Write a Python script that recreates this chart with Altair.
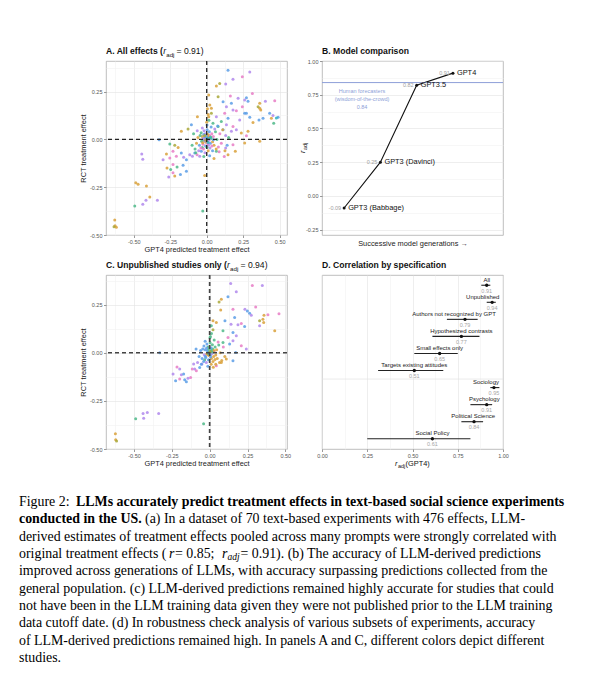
import altair as alt
import pandas as pd

SANS = "Liberation Sans"
SERIF = "Liberation Serif"

# ---------------- data ----------------
study_keys = ["o", "y", "g", "t", "b", "p", "k"]
study_colors = ["#D9A13B", "#A9A83A", "#4DB888", "#2FB5C0", "#5A9EE6", "#B088EC", "#E77DC6"]

# Panel A: (GPT4 predicted effect, RCT effect, study colour group)
A_points = [
    (0.146, 0.362, "b"), (0.295, 0.353, "p"), (0.18, 0.315, "p"), (0.244, 0.327, "k"), (0.13, 0.29, "p"),
    (0.066, 0.279, "o"), (0.089, 0.292, "y"), (0.014, 0.232, "o"), (0.078, 0.223, "y"), (0.162, 0.227, "k"),
    (0.215, 0.215, "p"), (0.313, 0.24, "k"), (0.272, 0.218, "b"), (0.283, 0.2, "b"), (0.26, 0.206, "p"),
    (0.363, 0.189, "o"), (0.402, 0.2, "p"), (0.466, 0.202, "k"), (0.363, 0.163, "o"), (0.37, 0.154, "o"),
    (0.352, 0.171, "y"), (0.112, 0.197, "b"), (0.169, 0.189, "b"), (0.135, 0.171, "p"), (0.18, 0.154, "p"),
    (0.203, 0.15, "k"), (0.244, 0.171, "k"), (0.26, 0.137, "b"), (0.272, 0.137, "b"), (0.431, 0.137, "b"),
    (0.454, 0.125, "p"), (0.489, 0.116, "b"), (0.477, 0.112, "t"), (0.386, 0.111, "b"), (0.443, 0.111, "o"),
    (0.358, 0.102, "b"), (0.459, 0.085, "g"), (0.295, 0.116, "b"), (0.317, 0.088, "o"), (0.226, 0.102, "p"),
    (0.123, 0.137, "k"), (0.146, 0.111, "b"), (0.10, 0.093, "g"), (0.066, 0.119, "p"), (0.032, 0.163, "o"),
    (0.021, 0.18, "o"), (0.032, 0.137, "y"), (0.014, 0.119, "o"), (0.043, 0.085, "g"), (0.135, 0.076, "p"),
    (0.18, 0.067, "k"), (0.203, 0.05, "p"), (0.237, 0.033, "o"), (0.272, 0.019, "k"), (0.283, 0.042, "o"),
    (0.169, 0.042, "p"), (0.112, 0.05, "b"), (0.078, 0.067, "g"), (0.363, -0.01, "o"), (0.26, -0.019, "o"),
    (0.18, -0.028, "k"), (0.196, -0.062, "o"), (0.13, -0.045, "p"), (0.146, -0.08, "o"), (0.066, -0.062, "g"),
    (-0.064, 0.118, "o"), (-0.174, 0.042, "o"), (-0.128, 0.055, "y"), (-0.105, 0.076, "b"), (-0.326, -0.002, "b"),
    (-0.253, -0.024, "g"), (-0.219, -0.031, "y"), (-0.196, -0.042, "o"), (-0.231, -0.062, "k"), (-0.276, -0.076, "o"),
    (-0.299, -0.106, "p"), (-0.253, -0.097, "k"), (-0.208, -0.088, "k"), (-0.174, -0.071, "b"), (-0.158, -0.093, "p"),
    (-0.139, -0.106, "b"), (-0.116, -0.080, "p"), (-0.098, -0.088, "p"), (-0.082, -0.071, "b"), (-0.066, -0.080, "k"),
    (-0.048, -0.088, "p"), (-0.037, -0.062, "b"), (-0.030, -0.042, "g"), (-0.231, -0.131, "k"), (-0.272, -0.149, "o"),
    (-0.247, -0.157, "g"), (-0.203, -0.145, "g"), (-0.162, -0.135, "b"), (-0.26, -0.197, "p"), (-0.219, -0.192, "o"),
    (-0.180, -0.183, "b"), (-0.231, -0.175, "k"), (-0.139, -0.166, "b"), (-0.014, -0.189, "o"), (-0.027, -0.374, "g"),
    (-0.445, -0.076, "p"), (-0.438, -0.104, "p"), (-0.486, -0.227, "o"), (-0.47, -0.235, "o"), (-0.413, -0.244, "o"),
    (-0.39, -0.301, "o"), (-0.416, -0.318, "p"), (-0.438, -0.339, "p"), (-0.338, -0.318, "p"), (-0.493, -0.348, "g"),
    (-0.630, -0.422, "o"), (-0.628, -0.452, "o"), (-0.619, -0.46, "o"), (-0.635, -0.457, "y"),
    (0.005, 0.16, "o"), (0.01, 0.13, "o"), (0.015, 0.1, "g"), (0.0, 0.09, "o"),
    # dense core around zero
    (0.00, 0.00, "p"), (0.01, 0.01, "b"), (-0.01, 0.005, "k"), (0.005, -0.01, "g"), (-0.005, -0.015, "o"),
    (0.015, -0.005, "p"), (-0.015, 0.012, "b"), (0.02, 0.02, "k"), (-0.02, -0.005, "g"), (0.008, 0.025, "o"),
    (-0.01, 0.03, "p"), (0.025, -0.02, "b"), (-0.025, -0.025, "k"), (0.03, 0.005, "g"), (-0.03, 0.015, "o"),
    (0.012, -0.03, "p"), (-0.008, -0.035, "b"), (0.035, 0.03, "k"), (-0.035, -0.01, "g"), (0.04, -0.012, "o"),
    (0.018, 0.04, "b"), (-0.018, 0.045, "p"), (0.045, 0.015, "k"), (-0.045, 0.02, "g"), (0.05, -0.03, "o"),
    (-0.05, -0.03, "b"), (0.022, -0.045, "p"), (-0.022, -0.05, "k"), (0.06, 0.04, "g"), (-0.06, 0.01, "o"),
    (0.003, 0.05, "b"), (0.055, 0.055, "p"), (-0.04, -0.045, "k"), (0.07, 0.0, "g"), (-0.07, -0.02, "o"),
    (0.03, 0.065, "b"), (-0.03, 0.06, "p"), (0.08, -0.04, "k"), (-0.08, -0.05, "g"), (0.01, -0.06, "o"),
    (0.04, -0.06, "b"), (-0.055, -0.06, "p"), (0.09, 0.03, "k"), (-0.09, 0.03, "g"), (0.065, -0.05, "o"),
    (0.002, 0.075, "b"), (-0.012, -0.07, "p"), (0.1, -0.02, "k"), (-0.1, -0.03, "g"), (0.11, 0.05, "o"),
    (0.075, 0.07, "b"), (-0.065, 0.045, "p"), (0.085, -0.065, "k"), (-0.075, -0.07, "g"), (0.012, 0.012, "o"),
    (-0.012, -0.008, "p"), (0.006, -0.022, "k"), (-0.004, 0.018, "b"), (0.028, 0.012, "g"), (-0.028, -0.018, "o"),
    (0.016, 0.004, "p"), (-0.02, 0.025, "b"), (0.035, -0.035, "k"), (-0.038, 0.035, "g"), (0.125, -0.06, "o"),
    (0.13, 0.02, "p"), (0.14, -0.03, "b"), (0.15, 0.01, "g"), (0.12, -0.09, "k"), (0.02, -0.085, "b"),
    (-0.02, -0.09, "g"), (0.05, -0.1, "o"), (0.004, 0.006, "t"), (-0.006, -0.004, "y"), (0.009, -0.016, "t"),
    (-0.014, 0.02, "y"), (0.022, 0.008, "t"), (-0.024, 0.004, "p"), (0.002, -0.042, "g"), (0.046, -0.002, "b"),
]

# Panel C: unpublished studies only
C_points = [
    (0.139, 0.360, "p"), (0.282, 0.35, "k"), (0.176, 0.317, "p"), (0.348, 0.35, "p"), (0.121, 0.291, "b"),
    (0.077, 0.278, "o"), (0.062, 0.264, "y"), (0.073, 0.222, "o"), (0.154, 0.226, "k"), (0.233, 0.226, "p"),
    (0.304, 0.238, "k"), (0.249, 0.217, "b"), (0.264, 0.205, "b"), (0.275, 0.195, "p"), (0.359, 0.195, "o"),
    (0.385, 0.197, "k"), (0.458, 0.203, "k"), (0.352, 0.174, "o"), (0.357, 0.157, "o"), (0.330, 0.166, "y"),
    (0.101, 0.166, "b"), (0.165, 0.183, "b"), (0.141, 0.148, "p"), (0.187, 0.145, "p"), (0.209, 0.152, "k"),
    (0.231, 0.136, "b"), (0.33, 0.14, "p"), (0.43, 0.114, "o"), (0.022, 0.166, "o"), (0.011, 0.140, "g"),
    (0.022, 0.119, "y"), (0.044, 0.157, "o"), (0.088, 0.114, "g"), (0.154, 0.105, "b"), (0.121, 0.079, "k"),
    (0.176, 0.088, "p"), (0.154, 0.062, "p"), (0.209, 0.036, "k"), (0.242, 0.019, "p"), (0.132, 0.045, "b"),
    (0.088, 0.053, "g"), (0.172, 0.002, "b"), (0.154, -0.041, "b"), (0.110, -0.033, "o"), (0.077, -0.05, "o"),
    (0.044, -0.067, "k"), (-0.330, 0.0, "b"), (-0.216, -0.074, "k"), (-0.198, -0.084, "p"), (-0.242, -0.110, "p"),
    (-0.187, -0.114, "p"), (-0.172, -0.110, "b"), (-0.198, -0.136, "k"), (-0.165, -0.140, "b"), (-0.225, -0.145, "b"),
    (-0.143, -0.133, "p"), (-0.154, -0.150, "b"), (-0.126, -0.128, "k"), (-0.115, -0.084, "k"), (-0.099, -0.084, "p"),
    (-0.088, -0.093, "k"), (-0.066, -0.076, "b"), (-0.051, -0.059, "p"), (-0.033, -0.036, "g"), (-0.106, -0.059, "p"),
    (-0.04, -0.369, "g"), (-0.44, -0.316, "p"), (-0.412, -0.310, "p"), (-0.436, -0.34, "p"), (-0.337, -0.316, "p"),
    (-0.489, -0.343, "g"), (-0.623, -0.421, "o"), (-0.621, -0.452, "o"), (-0.615, -0.459, "y"),
    # dense core around zero
    (0.00, 0.00, "b"), (0.01, 0.008, "o"), (-0.01, 0.004, "g"), (0.006, -0.01, "b"), (-0.006, -0.014, "o"),
    (0.016, -0.004, "p"), (-0.016, 0.012, "b"), (0.02, 0.02, "g"), (-0.02, -0.006, "o"), (0.008, 0.026, "b"),
    (-0.01, 0.03, "g"), (0.026, -0.02, "o"), (-0.026, -0.024, "b"), (0.03, 0.006, "k"), (-0.03, 0.016, "b"),
    (0.012, -0.03, "o"), (-0.008, -0.036, "b"), (0.036, 0.03, "g"), (-0.036, -0.01, "p"), (0.04, -0.012, "o"),
    (0.018, 0.042, "g"), (-0.018, 0.046, "b"), (0.046, 0.016, "o"), (-0.046, 0.02, "b"), (0.05, -0.03, "o"),
    (-0.05, -0.03, "b"), (0.022, -0.046, "o"), (-0.022, -0.05, "p"), (0.06, 0.04, "g"), (-0.06, 0.012, "b"),
    (0.003, 0.052, "g"), (0.056, 0.056, "k"), (-0.04, -0.046, "b"), (0.07, 0.0, "o"), (-0.07, -0.02, "b"),
    (0.03, 0.066, "g"), (-0.03, 0.06, "b"), (0.08, -0.04, "o"), (-0.08, -0.05, "p"), (0.01, -0.06, "o"),
    (0.04, -0.06, "o"), (-0.055, -0.06, "b"), (0.09, 0.03, "k"), (-0.09, 0.02, "b"), (0.065, -0.05, "o"),
    (0.002, 0.078, "g"), (-0.012, -0.07, "b"), (0.1, -0.02, "o"), (0.012, 0.012, "t"), (-0.012, -0.008, "o"),
    (0.006, -0.022, "b"), (-0.004, 0.018, "g"), (0.028, 0.012, "o"), (-0.028, -0.018, "b"), (0.016, 0.004, "g"),
    (-0.02, 0.025, "b"), (0.035, -0.035, "o"), (-0.038, 0.035, "b"), (0.004, 0.006, "y"), (-0.006, -0.004, "t"),
    (0.012, 0.1, "g"), (0.005, 0.085, "g"), (0.024, -0.075, "o"),
]

# Panel B: model comparison
models = ["GPT3 (Babbage)", "GPT3 (Davinci)", "GPT3.5", "GPT4"]
model_gen = [1, 2, 3, 4]
model_r = [-0.09, 0.25, 0.82, 0.91]
human_r = 0.84
human_label = "Human forecasters\n(wisdom-of-the-crowd)"

# Panel D: correlation by specification
spec_labels = ["All", "Unpublished", "Authors not recognized by GPT", "Hypothesized contrasts",
               "Small effects only", "Targets existing attitudes",
               "Sociology", "Psychology", "Political Science", "Social Policy"]
spec_r = [0.91, 0.94, 0.79, 0.77, 0.65, 0.51, 0.95, 0.91, 0.84, 0.61]
spec_lo = [0.88, 0.91, 0.69, 0.61, 0.51, 0.31, 0.93, 0.82, 0.77, 0.25]
spec_hi = [0.93, 0.96, 0.86, 0.87, 0.75, 0.67, 0.98, 0.94, 0.89, 0.82]
n_subset_specs = 6

# Caption (each line split into style segments)
caption_lines = [
    ["Figure 2: ", "LLMs accurately predict treatment effects in text-based social science experiments"],
    ["conducted in the US.", "(a) In a dataset of 70 text-based experiments with 476 effects, LLM-"],
    ["derived estimates of treatment effects pooled across many prompts were strongly correlated with"],
    ["original treatment effects (", "r", " = 0.85; ", "r", "adj", " = 0.91). (b) The accuracy of LLM-derived predictions"],
    ["improved across generations of LLMs, with accuracy surpassing predictions collected from the"],
    ["general population. (c) LLM-derived predictions remained highly accurate for studies that could"],
    ["not have been in the LLM training data given they were not published prior to the LLM training"],
    ["data cutoff date. (d) In robustness check analysis of various subsets of experiments, accuracy"],
    ["of LLM-derived predictions remained high. In panels A and C, different colors depict different"],
    ["studies."],
]

# ---------------- helpers ----------------
MINOR = "abs(datum.value*4 - round(datum.value*4)) > 0.01"
LABEL_EXPR = ("abs(datum.value*4 - round(datum.value*4)) < 0.01 ? "
              "replace(format(datum.value, '.2f'), '\u2212', '-') : ''")
W, H = 181, 174


def frac_axis(vals, title, grid=True, title_pad=2):
    return alt.Axis(
        values=vals, title=title, labelExpr=LABEL_EXPR, labelFlush=False, labelOverlap=False,
        tickOpacity={"condition": {"test": MINOR, "value": 0}, "value": 1},
        gridColor={"condition": {"test": MINOR, "value": "#F2F2F2"}, "value": "#E3E3E3"},
        grid=grid, gridWidth=0.6, domain=False, tickSize=2.5, tickColor="#555", tickWidth=0.6,
        labelFont=SANS, labelFontSize=5.5, labelColor="#555", labelPadding=1.5,
        titleFont=SANS, titleFontSize=7.4, titleFontWeight="normal", titleColor="#222",
        titlePadding=title_pad)


def steps(lo_i, hi_i):
    return [i * 0.125 for i in range(lo_i, hi_i + 1)]


def text_seg(txt, x, y, size=8.6, weight="normal", style="normal", dy=0, angle=0, color="#111",
             baseline="alphabetic", font=SANS):
    return alt.Chart(pd.DataFrame({"t": [txt]})).mark_text(
        align="left", baseline=baseline, fontSize=size, fontWeight=weight, fontStyle=style,
        font=font, dy=dy, angle=angle, color=color
    ).encode(x=alt.value(x), y=alt.value(y), text="t:N")


def title_segs(main, r_x, adj_x, rest_x, rest):
    return [
        text_seg(main, 0, -7, weight="bold"),
        text_seg("r", r_x, -7, style="italic"),
        text_seg("adj", adj_x, -7, size=6.2, dy=2.5),
        text_seg(rest, rest_x, -7),
    ]


def scatter_panel(points, xdom, ydom, titles, dash_color, dash_w):
    df = pd.DataFrame(points, columns=["pred", "rct", "study"])
    xv = [v for v in steps(-5, 4) if xdom[0] <= v <= xdom[1]]
    yv = [v for v in steps(-4, 3) if ydom[0] <= v <= ydom[1]]
    X = alt.X("pred:Q", scale=alt.Scale(domain=xdom, nice=False, zero=False),
              axis=frac_axis(xv, "GPT4 predicted treatment effect", title_pad=1))
    Y = alt.Y("rct:Q", scale=alt.Scale(domain=ydom, nice=False, zero=False),
              axis=frac_axis(yv, "RCT treatment effect", title_pad=2))
    pts = alt.Chart(df).mark_circle(size=9, opacity=0.85).encode(
        x=X, y=Y,
        color=alt.Color("study:N", scale=alt.Scale(domain=study_keys, range=study_colors), legend=None),
    )
    zero = pd.DataFrame({"pred": [0.0], "rct": [0.0]})
    vline = alt.Chart(zero).mark_rule(color=dash_color, strokeWidth=dash_w, strokeDash=[4, 3]).encode(x=X)
    hline = alt.Chart(zero).mark_rule(color=dash_color, strokeWidth=dash_w, strokeDash=[4, 3]).encode(y=Y)
    return alt.layer(pts, vline, hline, *titles).properties(width=W, height=H)


# ---------------- Panel A & C ----------------
panel_A = scatter_panel(A_points, [-0.69, 0.55], [-0.5, 0.41],
                        title_segs("A. All effects (", 57.3, 60.2, 70.5, " = 0.91)"), "#222", 1.3)
panel_C = scatter_panel(C_points, [-0.685, 0.511], [-0.5, 0.404],
                        title_segs("C. Unpublished studies only (", 121, 124, 134.5, " = 0.94)"), "#444", 1.7)

# ---------------- Panel B ----------------
dfB = pd.DataFrame({"model": models, "gen": model_gen, "r": model_r,
                    "rlab": [f"{v:.2f}" for v in model_r]})
dfH = pd.DataFrame({"r": [human_r], "t": [human_label + "\n" + f"{human_r:.2f}"]})
bx = alt.X("gen:Q", scale=alt.Scale(domain=[0.39, 5.38], nice=False, zero=False),
           axis=alt.Axis(labels=False, ticks=False, grid=False, domain=False,
                         title="Successive model generations \u2192", titleFont=SANS, titleFontSize=7.4,
                         titleFontWeight="normal", titleColor="#222", titlePadding=4))
by = alt.Y("r:Q", scale=alt.Scale(domain=[-0.29, 1.0], nice=False, zero=False),
           axis=frac_axis(steps(-2, 8), None))
hum_line = alt.Chart(dfH).mark_rule(color="#8E9FD8", strokeWidth=1).encode(y=by)
hum_text = alt.Chart(dfH).mark_text(lineBreak="\n", lineHeight=8, fontSize=5.5, color="#8E9FD8",
                                    baseline="top", align="center", dy=6, font=SANS).encode(
    x=alt.value(40), y=by, text="t:N")
b_line = alt.Chart(dfB).mark_line(color="#111", strokeWidth=1.1).encode(x=bx, y=by)
b_pts = alt.Chart(dfB).mark_circle(size=9, color="#111", opacity=1).encode(x=bx, y=by)
b_names = alt.Chart(dfB).mark_text(align="left", dx=4, fontSize=7.4, color="#111", font=SANS).encode(
    x=bx, y=by, text="model:N")
b_vals = alt.Chart(dfB).mark_text(align="right", dx=-3, fontSize=5.5, color="#A0A0A0", font=SANS).encode(
    x=bx, y=by, text="rlab:N")
panel_B = alt.layer(
    b_line, hum_line, hum_text, b_pts, b_names, b_vals,
    text_seg("B. Model comparison", 0, -7, weight="bold"),
    text_seg("r", -19, 92, size=7.4, style="italic", angle=270, baseline="middle"),
    text_seg("adj", -19, 89, size=5.5, angle=270, baseline="middle", dy=2.3),
).properties(width=W, height=H)

# ---------------- Panel D ----------------
dfD = pd.DataFrame({"label": spec_labels, "r": spec_r, "lo": spec_lo, "hi": spec_hi,
                    "row": list(range(1, len(spec_labels) + 1)),
                    "rlab": [f"{v:.2f}" for v in spec_r]})
dfSep = pd.DataFrame({"row": [n_subset_specs + 0.5]})
dy_enc = alt.Y("row:Q", scale=alt.Scale(domain=[0.4, len(spec_labels) + 0.6], reverse=True,
                                        nice=False, zero=False), axis=None)
dxs = alt.Scale(domain=[0, 1], nice=False)
d_axis = frac_axis(steps(0, 8), None)
d_sep = alt.Chart(dfSep).mark_rule(color="#E3E3E3", strokeWidth=0.7).encode(y=dy_enc)
d_bars = alt.Chart(dfD).mark_rule(color="#222", strokeWidth=1.1).encode(
    x=alt.X("lo:Q", scale=dxs, axis=d_axis), x2="hi:Q", y=dy_enc)
d_pts = alt.Chart(dfD).mark_circle(size=11, color="#111", opacity=1).encode(
    x=alt.X("r:Q", scale=dxs, axis=d_axis), y=dy_enc)
d_names = alt.Chart(dfD).transform_calculate(
    labx="min(datum.r, 0.985 - length(datum.label) * 0.0088)"
).mark_text(fontSize=6, color="#222", dy=-5.5, font=SANS).encode(
    x=alt.X("labx:Q", scale=dxs, axis=d_axis), y=dy_enc, text="label:N")
d_vals = alt.Chart(dfD).mark_text(fontSize=5.5, color="#A6A6A6", dy=5.5, font=SANS).encode(
    x=alt.X("r:Q", scale=dxs, axis=d_axis), y=dy_enc, text="rlab:N")
panel_D = alt.layer(
    d_sep, d_bars, d_pts, d_names, d_vals,
    text_seg("D. Correlation by specification", 0, -7, weight="bold"),
    text_seg("r", 73, H + 17, size=7.4, style="italic"),
    text_seg("adj", 76, H + 17, size=5.5, dy=2),
    text_seg(" (GPT4)", 83.5, H + 17, size=7.4),
).properties(width=W, height=H)

# ---------------- Caption ----------------
CAP_X = -87
CAP_SIZE = 13.9
CAP_LINE = 17.33
CAP_H = 175
cap_offsets = {(0, 1): 57, (1, 1): 126, (3, 1): 150, (3, 2): 156, (3, 3): 203, (3, 4): 208.5, (3, 5): 221.5}
cap_styles = {(0, 0): ("normal", "normal"), (0, 1): ("bold", "normal"), (1, 0): ("bold", "normal"),
              (3, 1): ("normal", "italic"), (3, 3): ("normal", "italic"), (3, 4): ("normal", "italic")}
cap_first = 0.25
cy = alt.Scale(domain=[cap_first, cap_first + CAP_H / CAP_LINE], reverse=True, nice=False, zero=False)
cap_layers = []
for li, segs in enumerate(caption_lines):
    for si, seg in enumerate(segs):
        weight, style = cap_styles.get((li, si), ("normal", "normal"))
        size = 9.5 if (li, si) == (3, 4) else CAP_SIZE
        dy = 3 if (li, si) == (3, 4) else 0
        cap_layers.append(
            alt.Chart(pd.DataFrame({"line": [li + 1], "t": [seg]})).mark_text(
                align="left", baseline="middle", font=SERIF, fontSize=size, fontWeight=weight,
                fontStyle=style, color="#000", dx=cap_offsets.get((li, si), 0), dy=dy
            ).encode(x=alt.value(CAP_X), y=alt.Y("line:Q", scale=cy, axis=None), text="t:N")
        )
caption = alt.layer(*cap_layers).properties(width=W, height=CAP_H,
                                            view=alt.ViewBackground(strokeOpacity=0))

# ---------------- layout ----------------
chart = alt.concat(panel_A, panel_B, panel_C, panel_D, caption, columns=2,
                   spacing={"row": 40, "column": 35}, bounds="flush").properties(
    padding={"left": 11, "top": 38, "right": 5, "bottom": 5}
).configure(font=SANS).configure_axis(labelOverlap=False, labelFlush=False
).configure_view(stroke="#ADADAD", strokeWidth=0.8)

chart.save("out.html", embed_options={"renderer": "svg", "actions": False})
